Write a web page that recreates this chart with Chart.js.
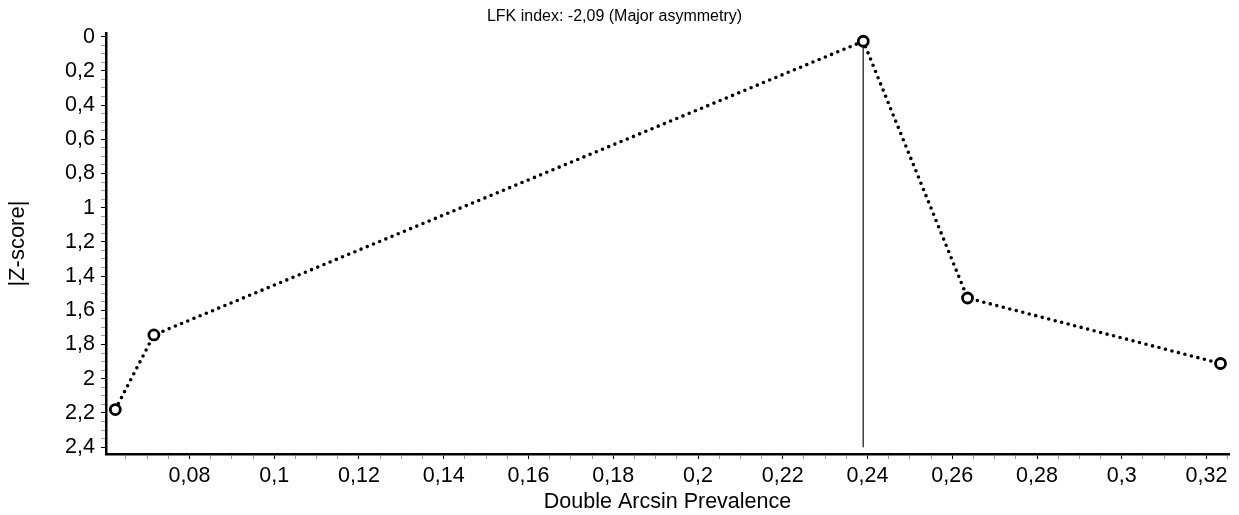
<!DOCTYPE html>
<html>
<head>
<meta charset="utf-8">
<script src="https://cdn.jsdelivr.net/npm/chart.js@4/dist/chart.umd.min.js"></script>
<style>
  html, body { margin: 0; padding: 0; background: #fff; }
  #wrap { width: 1239px; height: 515px; }
</style>
</head>
<body>
<div id="wrap"><canvas id="lfk" width="1239" height="515"></canvas></div>
<script>
// Doi plot: |Z-score| against double arcsine prevalence
const studyX = [0.0625, 0.0716, 0.239, 0.2636, 0.3233];
const studyZ = [2.18, 1.744, 0.027, 1.528, 1.911];

// major tick values (labels are the same values with a decimal comma)
const xTicks = [0.08, 0.1, 0.12, 0.14, 0.16, 0.18, 0.2, 0.22, 0.24, 0.26, 0.28, 0.3, 0.32];
const yTicks = [0, 0.2, 0.4, 0.6, 0.8, 1, 1.2, 1.4, 1.6, 1.8, 2, 2.2, 2.4];

// vertical line from the study with the smallest |Z| down to the bottom tick
const refBottom = 2.4;

const titleText = 'LFK index: -2,09 (Major asymmetry)';
const FONT = "Arial, 'Liberation Sans', sans-serif";

const isMajor = (list, v) => list.some(t => Math.abs(t - v) < 1e-9);
const fmt = v => String(+v.toFixed(4)).replace('.', ',');

// minor ticks every 0.005 on x, 0.05 on y
function buildTicks(scale, step) {
  const out = [];
  const start = Math.ceil(scale.min / step - 1e-9);
  const end = Math.floor(scale.max / step + 1e-9);
  for (let i = start; i <= end; i++) {
    out.push({ value: +(i * step).toFixed(6) });
  }
  scale.ticks = out;
}

const ctx = document.getElementById('lfk').getContext('2d');
new Chart(ctx, {
  type: 'line',
  data: {
    datasets: [
      {
        label: 'studies',
        data: studyX.map((x, i) => ({ x: x, y: studyZ[i] })),
        borderColor: '#000',
        borderWidth: 3.6,
        borderDash: [0, 6.7],
        borderCapStyle: 'round',
        pointRadius: 5,
        pointBorderWidth: 2.8,
        pointBorderColor: '#000',
        pointBackgroundColor: '#fff',
        tension: 0
      },
      {
        label: 'ref',
        data: [
          { x: studyX[2], y: studyZ[2] },
          { x: studyX[2], y: refBottom }
        ],
        borderColor: '#444',
        borderWidth: 1,
        pointRadius: 0
      }
    ]
  },
  options: {
    responsive: false,
    animation: false,
    layout: { padding: { top: 0, right: 10, left: 0, bottom: 0 } },
    plugins: {
      legend: { display: false },
      tooltip: { enabled: false },
      title: {
        display: true,
        text: titleText,
        color: '#000',
        font: { family: FONT, size: 16, weight: 'normal' },
        padding: { top: 7, bottom: 7 }
      }
    },
    scales: {
      x: {
        type: 'linear',
        min: 0.0603,
        max: 0.3253,
        afterBuildTicks: s => buildTicks(s, 0.005),
        afterFit: s => { s.height = 61; },
        border: { display: true, color: '#000', width: 2.5 },
        grid: {
          drawOnChartArea: false,
          drawTicks: true,
          tickLength: 5,
          tickColor: c => isMajor(xTicks, c.tick.value) ? '#000' : '#999'
        },
        ticks: {
          autoSkip: false,
          maxRotation: 0,
          padding: 4,
          color: '#000',
          font: { family: FONT, size: 21.5 },
          callback: v => isMajor(xTicks, v) ? fmt(v) : ''
        },
        title: {
          display: true,
          text: 'Double Arcsin Prevalence',
          color: '#000',
          font: { family: FONT, size: 21.5 },
          padding: { top: 0, bottom: 0 }
        }
      },
      y: {
        type: 'linear',
        reverse: true,
        min: -0.02,
        max: 2.44,
        afterBuildTicks: s => buildTicks(s, 0.05),
        afterFit: s => { s.width = 106; },
        border: { display: true, color: '#000', width: 2.5 },
        grid: {
          drawOnChartArea: false,
          drawTicks: true,
          tickLength: 5,
          tickColor: c => isMajor(yTicks, c.tick.value) ? '#000' : '#999'
        },
        ticks: {
          autoSkip: false,
          padding: 6,
          color: '#000',
          font: { family: FONT, size: 21.5 },
          callback: v => isMajor(yTicks, v) ? fmt(v) : ''
        },
        title: {
          display: true,
          text: '|Z-score|',
          color: '#000',
          font: { family: FONT, size: 22 },
          padding: { top: 5, bottom: 0 }
        }
      }
    }
  }
});
</script>
</body>
</html>
